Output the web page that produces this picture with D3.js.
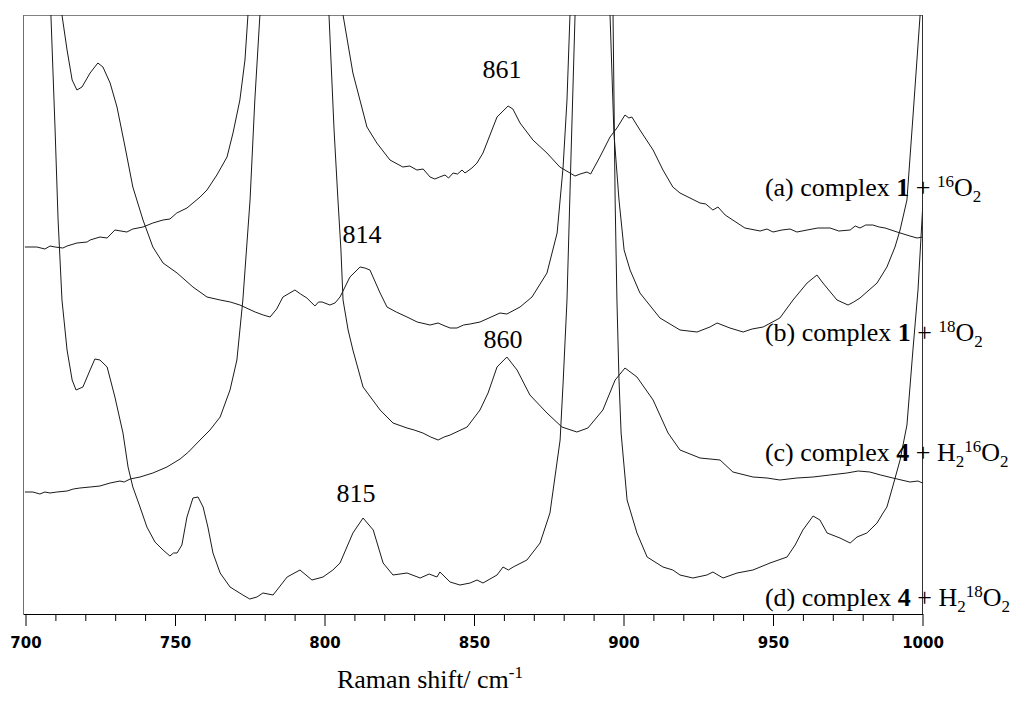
<!DOCTYPE html>
<html>
<head>
<meta charset="utf-8">
<script src="https://cdn.jsdelivr.net/npm/d3@7"></script>
<style>
  html, body { margin: 0; padding: 0; background: #fff; }
  svg { display: block; }
</style>
</head>
<body>
<svg id="chart" width="1018" height="702"></svg>
<script>
// ---------------- DATA ----------------
// x: Raman shift (cm-1); y: stacked intensity (a.u., offsets included)
const majorTicks = [700, 750, 800, 850, 900, 950, 1000];
const minorTicks = [710, 720, 730, 740, 760, 770, 780, 790, 810, 820, 830, 840,
                    860, 870, 880, 890, 910, 920, 930, 940, 960, 970, 980, 990];

// (a) complex 1 + 16O2
const specA = [[699.8,367],[703.8,367],[706.5,365],[708.2,368],[709.9,367],[712.5,366],[713.9,368],[717.2,371],[720.6,372],[721.6,374],[724.9,377],[727.3,376],[729.9,384],[733.9,382],[735.9,385],[739.3,387],[742.6,391],[746.0,394],[748.3,395],[750.6,401],[754.0,406],[758.4,417],[760.7,424],[764.0,439],[767.4,457],[769.4,481],[771.7,514],[773.4,554],[774.4,599],[775.4,644],
[805.5,644],[806.2,599],[809.5,541],[814.2,487],[817.5,471],[821.9,454],[826.2,447],[828.5,448],[830.9,444],[833.0,445],[835.3,437],[836.9,435],[838.5,437],[840.3,439],[841.5,436],[843.0,441],[844.5,440],[846.0,444],[847.0,441],[849.3,446],[851.0,451],[853.0,461],[857.7,497],[861.4,508],[863.0,505],[865.4,491],[869.7,474],[874.4,461],[878.7,447],[883.8,438],[885.5,440],[887.8,442],[889.0,440],[892.1,457],[895.5,477],[897.8,486],[900.5,499],[901.8,496],[902.8,497],[905.5,484],[909.9,464],[913.2,444],[916.5,427],[918.9,421],[925.6,411],[927.5,410],[929.9,404],[931.6,407],[934.0,399],[940.6,386],[945.7,383],[948.0,385],[950.0,382],[953.0,384],[955.7,385],[958.0,382],[961.4,384],[965.0,386],[969.1,386],[972.0,383],[975.8,384],[977.5,388],[979.1,386],[981.0,389],[983.4,389],[985.5,387],[987.5,386],[991.5,382],[995.8,378],[998.2,376],[1000.0,377]];

// (b) complex 1 + 18O2
const specB = [[711.5,644],[712.2,599],[713.9,564],[715.6,534],[717.2,524],[718.9,527],[721.6,541],[724.2,551],[725.9,547],[728.3,531],[730.6,507],[733.3,467],[735.9,427],[739.3,394],[742.6,367],[746.0,351],[750.7,341],[756.0,327],[760.7,317],[765.1,314],[768.5,312],[771.7,309],[776.8,302],[779.5,299],[781.8,297],[784.0,305],[786.1,317],[790.1,324],[792.0,320],[794.1,316],[796.8,308],[798.0,312],[799.2,312],[801.8,309],[803.5,311],[805.2,317],[808.5,337],[811.9,347],[813.5,346],[815.2,344],[818.6,321],[820.9,307],[824.0,302],[827.6,297],[831.0,292],[835.3,289],[838.0,291],[840.3,288],[842.0,286],[844.3,286],[846.5,289],[848.7,290],[852.0,292],[855.0,296],[858.7,301],[861.0,300],[865.4,307],[869.4,317],[874.4,341],[877.8,381],[879.8,447],[881.1,514],[882.1,599],[882.8,644],
[894.8,644],[895.5,599],[896.8,481],[898.5,414],[900.2,364],[902.2,344],[905.5,321],[912.2,296],[918.9,284],[924.6,282],[928.9,287],[931.3,291],[935.6,286],[940.0,282],[943.0,285],[946.7,287],[952.3,296],[956.7,314],[961.4,331],[964.7,339],[966.7,331],[971.4,314],[975.1,309],[977.0,312],[979.1,316],[984.8,331],[988.1,347],[990.8,367],[992.5,384],[994.8,414],[996.8,497],[999.2,599],[999.8,644]];

// (c) complex 4 + H2 16O2
const specC = [[699.8,122],[702.5,122],[704.8,120],[706.5,122],[708.2,121],[710.5,122],[713.9,123],[716.0,125],[718.2,126],[721.6,127],[724.9,128],[728.3,131],[731.6,133],[733.0,132],[735.0,135],[738.3,137],[742.6,141],[747.3,147],[751.7,155],[754.5,162],[757.4,171],[761.7,184],[765.1,197],[768.4,224],[770.7,254],[772.7,314],[775.1,414],[776.7,514],[778.4,599],[779.1,644],
[800.8,644],[801.5,599],[803.2,484],[804.5,414],[805.5,364],[806.2,314],[807.9,284],[809.5,264],[812.9,227],[818.6,204],[822.9,191],[827.6,186],[830.0,184],[832.9,181],[835.5,177],[838.0,174],[840.0,177],[842.0,179],[847.7,187],[852.0,204],[854.7,221],[857.7,247],[861.0,257],[864.4,244],[868.7,219],[874.4,201],[879.4,187],[884.4,182],[888.1,186],[893.1,204],[897.2,234],[900.5,246],[904.5,237],[909.9,214],[914.9,181],[918.9,164],[925.6,156],[932.3,154],[936.6,142],[943.3,137],[948.0,136],[952.3,134],[958.0,136],[963.4,137],[969.0,139],[974.7,141],[978.5,143],[982.4,142],[986.0,139],[990.1,136],[995.8,132],[998.5,133],[1000.0,131]];

// (d) complex 4 + H2 18O2
const specD = [[707.9,644],[708.5,599],[709.9,484],[710.9,394],[712.2,314],[713.9,264],[715.6,234],[716.9,224],[719.2,227],[721.6,244],[723.2,255],[724.9,254],[727.3,247],[729.9,217],[732.6,181],[734.3,147],[735.9,127],[738.3,107],[740.6,87],[743.3,72],[746.0,64],[748.3,58],[749.5,61],[750.7,61],[752.3,69],[754.0,97],[756.0,116],[757.7,117],[759.4,107],[761.0,87],[762.7,61],[765.1,41],[768.4,27],[772.7,19],[775.0,15],[777.4,17],[779.4,21],[782.8,19],[787.5,37],[791.8,44],[795.8,34],[799.5,37],[802.8,44],[805.2,51],[809.5,81],[812.9,96],[816.3,84],[819.6,51],[822.9,39],[827.6,41],[832.0,36],[835.0,40],[837.6,37],[838.6,42],[842.0,32],[845.3,29],[848.7,31],[851.0,34],[853.0,31],[857.7,39],[859.7,47],[861.5,44],[863.1,47],[867.7,54],[872.1,71],[875.4,101],[878.8,174],[879.8,231],[881.1,314],[882.5,464],[883.8,599],[884.5,644],
[895.8,644],[896.5,599],[897.2,414],[897.8,314],[898.5,234],[899.2,181],[901.2,114],[904.5,81],[907.9,57],[913.2,47],[916.5,44],[918.9,39],[923.2,36],[927.9,39],[929.9,42],[933.3,36],[938.0,41],[943.3,44],[949.0,51],[954.7,57],[957.4,69],[960.0,84],[963.4,98],[965.7,94],[968.1,81],[972.4,76],[975.8,71],[978.1,77],[981.4,81],[984.8,91],[986.8,101],[988.1,107],[990.1,128],[992.5,154],[994.8,189],[996.8,264],[998.5,324],[1000.2,414]];

const spectra = [specA, specB, specC, specD];

// series labels: [text, style]  (n normal, b bold, sup, sub); anchored at [x, y] in data units
const seriesLabels = [
  { at: [947.3, 418.5], parts: [["(a) complex ","n"],["1","b"],[" + ","n"],["16","sup"],["O","n"],["2","sub"]] },
  { at: [947.3, 273.5], parts: [["(b) complex ","n"],["1","b"],[" + ","n"],["18","sup"],["O","n"],["2","sub"]] },
  { at: [947.3, 153.5], parts: [["(c) complex ","n"],["4","b"],[" + H","n"],["2","sub"],["16","sup"],["O","n"],["2","sub"]] },
  { at: [947.3, 8],     parts: [["(d) complex ","n"],["4","b"],[" + H","n"],["2","sub"],["18","sup"],["O","n"],["2","sub"]] }
];

// peak annotations: [label, wavenumber, intensity level]
const peakLabels = [["861", 859.4, 536], ["814", 812.5, 371], ["860", 859.7, 266], ["815", 810.5, 112]];

// ---------------- CHART ----------------
const svg = d3.select("#chart");
const plot = { left: 23.5, right: 922.5, top: 15, bottom: 614 };

const x = d3.scaleLinear().domain([700, 1000]).range([25.5, 922.5]);
const y = d3.scaleLinear().domain([0, 599]).range([614, 15]);

svg.append("defs").append("clipPath").attr("id", "clip")
  .append("rect")
  .attr("x", plot.left).attr("y", plot.top)
  .attr("width", plot.right - plot.left).attr("height", plot.bottom - plot.top);

// frame
svg.append("line").attr("x1", plot.left).attr("x2", plot.right).attr("y1", plot.top + 0.5).attr("y2", plot.top + 0.5)
  .attr("stroke", "#808080").attr("stroke-width", 1);
svg.append("line").attr("x1", plot.left).attr("x2", plot.left).attr("y1", plot.top).attr("y2", plot.bottom)
  .attr("stroke", "#707070").attr("stroke-width", 1);
svg.append("line").attr("x1", plot.right).attr("x2", plot.right).attr("y1", plot.top).attr("y2", plot.bottom)
  .attr("stroke", "#333").attr("stroke-width", 1);

// spectra
const line = d3.line().x(d => x(d[0])).y(d => y(d[1]));
svg.append("g").attr("clip-path", "url(#clip)")
  .selectAll("path").data(spectra).join("path")
  .attr("d", line)
  .attr("fill", "none")
  .attr("stroke", "#1a1a1a")
  .attr("stroke-width", 1)
  .attr("stroke-linejoin", "round");

// axes
const gMinor = svg.append("g").attr("transform", `translate(0,${plot.bottom})`)
  .call(d3.axisBottom(x).tickValues(minorTicks).tickSize(7).tickSizeOuter(0).tickFormat(""));
gMinor.select(".domain").remove();
gMinor.selectAll("line").attr("stroke", "#000");

const gMajor = svg.append("g").attr("transform", `translate(0,${plot.bottom})`)
  .call(d3.axisBottom(x).tickValues(majorTicks).tickSize(12).tickSizeOuter(0).tickFormat(d3.format("d")));
gMajor.select(".domain").attr("stroke", "#000").attr("d", `M${plot.left},0.5H${plot.right + 0.5}`);
gMajor.selectAll("line").attr("stroke", "#000");
gMajor.selectAll("text")
  .attr("y", 33.5).attr("dy", null)
  .attr("fill", "#000")
  .style("font-family", "'DejaVu Sans', sans-serif")
  .style("font-weight", "bold")
  .style("font-size", "15px");

// axis title
const title = svg.append("text")
  .attr("x", 430).attr("y", 688)
  .attr("text-anchor", "middle")
  .style("font-family", "'Liberation Serif', 'Times New Roman', serif")
  .style("font-size", "26px")
  .attr("fill", "#000");
title.append("tspan").text("Raman shift/ cm");
title.append("tspan").attr("dy", -10).style("font-size", "17px").text("-1");

// series labels
const shift = { n: 0, b: 0, sup: -9, sub: 6 };
seriesLabels.forEach(lab => {
  const t = svg.append("text")
    .attr("x", x(lab.at[0])).attr("y", y(lab.at[1]))
    .style("font-family", "'Liberation Serif', 'Times New Roman', serif")
    .style("font-size", "26px")
    .attr("fill", "#000");
  let cur = 0;
  lab.parts.forEach(([txt, st]) => {
    const ts = t.append("tspan").text(txt).attr("dy", shift[st] - cur);
    cur = shift[st];
    if (st === "b") ts.style("font-weight", "bold");
    if (st === "sup" || st === "sub") ts.style("font-size", "17px");
  });
});

// peak labels
svg.append("g").selectAll("text").data(peakLabels).join("text")
  .attr("x", d => x(d[1])).attr("y", d => y(d[2]))
  .attr("text-anchor", "middle")
  .style("font-family", "'Liberation Serif', 'Times New Roman', serif")
  .style("font-size", "26px")
  .attr("fill", "#000")
  .text(d => d[0]);
</script>
</body>
</html>
